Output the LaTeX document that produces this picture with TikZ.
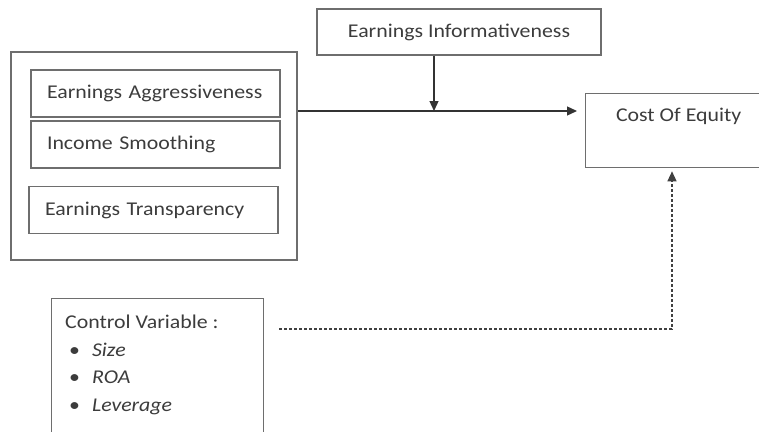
\documentclass[tikz,border=0pt]{standalone}
\usepackage{fontspec}
\setmainfont{Carlito}[FakeStretch=1.12]
\usetikzlibrary{arrows.meta}
\definecolor{linegray}{HTML}{6E6E6E}
\definecolor{textgray}{HTML}{3C3C3C}

\begin{document}
\begin{tikzpicture}[x=1pt, y=-1pt,
    every node/.style={text=textgray, font=\fontsize{19.5}{27.5}\selectfont},
    box/.style={draw=linegray, line width=1.3pt, rectangle, inner sep=0pt},
    itembox/.style={box, minimum width=249pt, minimum height=47pt, text width=217pt, align=left},
    arr/.style={draw=black!80, line width=1.3pt, -{Triangle[length=10pt,width=9pt]}},
    dashline/.style={draw=black!75, line width=1.3pt, dash pattern=on 3pt off 2pt}]
    \useasboundingbox (0,0) rectangle (759,431);
    % left group
    \node[box, minimum width=286pt, minimum height=208pt] (group) at (154,156) {};
    \node[itembox] (aggr) at (155.5,93.5) {Earnings Aggressiveness};
    \node[itembox] (smooth) at (155.5,144.5) {Income Smoothing};
    \node[itembox] (transp) at (153.5,210) {Earnings Transparency};
    % moderator and outcome
    \node[box, minimum width=284pt, minimum height=46pt] (info) at (459,32) {Earnings Informativeness};
    \node[box, anchor=north west, minimum width=186pt, text height=28pt, text depth=46pt] (coe) at (585,93) {Cost Of Equity};
    % controls
    \node[box, anchor=north west, minimum width=212pt, minimum height=170pt] (ctrl) at (51,298) {};
    \node[anchor=north west, align=left, inner sep=0pt] (ctrlitems) at (65,315) {Control Variable :\\
        \hspace*{4pt}\textbullet\hspace{12pt}\textit{Size}\\
        \hspace*{4pt}\textbullet\hspace{12pt}\textit{ROA}\\
        \hspace*{4pt}\textbullet\hspace{12pt}\textit{Leverage}};
    % connectors
    \coordinate (junction) at (434,111);
    \coordinate (bend) at (672,329);
    \draw[arr, shorten >=8pt] (group.east |- junction) -- (coe.west |- junction);
    \draw[arr] (info.south -| junction) -- (junction);
    \draw[dashline, -{Triangle[length=10pt,width=9pt]}, shorten >=3pt] ([xshift=15pt]ctrl.east |- bend) -- (bend) -- (coe.south -| bend);
\end{tikzpicture}
\end{document}
